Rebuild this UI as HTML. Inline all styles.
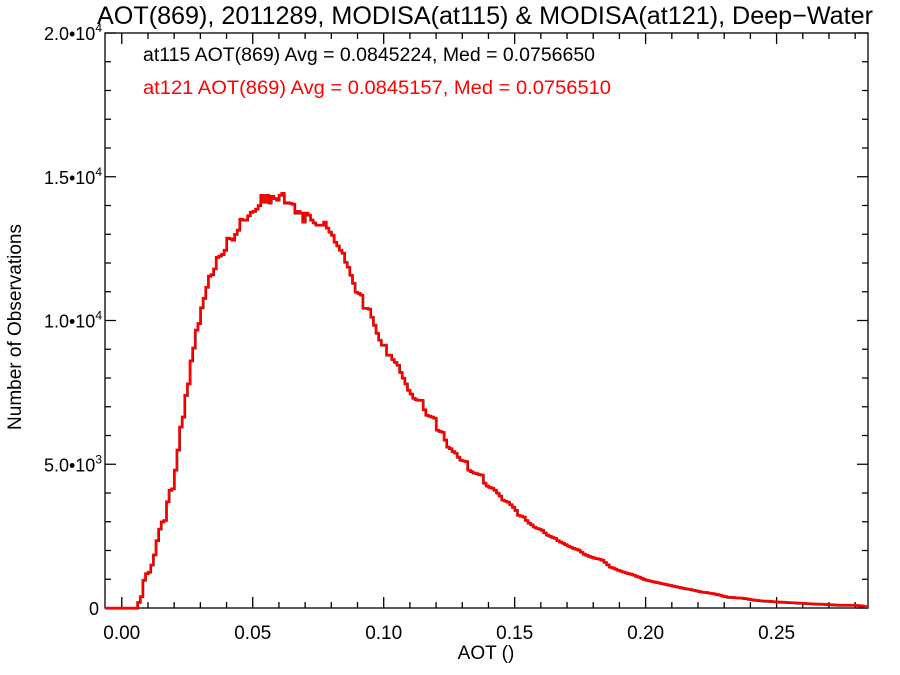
<!DOCTYPE html>
<html><head><meta charset="utf-8"><style>
body{margin:0;background:#fff;}
svg{display:block;font-family:"Liberation Sans",Arial,sans-serif;}
</style></head><body>
<svg id="chart" width="900" height="675" viewBox="0 0 900 675">
<text x="485" y="24" font-size="25" text-anchor="middle" textLength="776" lengthAdjust="spacingAndGlyphs">AOT(869), 2011289, MODISA(at115) &amp; MODISA(at121), Deep−Water</text>
<text x="143" y="61" font-size="19" fill="#000" textLength="452" lengthAdjust="spacingAndGlyphs">at115 AOT(869) Avg = 0.0845224, Med = 0.0756650</text>
<text x="143" y="94" font-size="19" fill="#ff0000" textLength="468" lengthAdjust="spacingAndGlyphs">at121 AOT(869) Avg = 0.0845157, Med = 0.0756510</text>
<text transform="translate(21,327) rotate(-90)" font-size="19" text-anchor="middle">Number of Observations</text>
<text x="486" y="659" font-size="19" text-anchor="middle">AOT ()</text>
<g id="axes"></g>
<g id="series"></g>
</svg>
<script>
const binStart = 0.0;
const binWidth = 0.001;
const countsAt121 = [
0,0,0,0,0,0,200,400,970,1200,
1250,1500,1850,2350,2750,3000,3050,3700,4100,4150,
4800,5500,6300,6650,7400,7800,8600,9050,9670,9900,
10450,10780,11160,11550,11600,11800,12200,12250,12300,12450,
12870,12850,12800,13000,13150,13530,13500,13500,13650,13770,
13800,13880,14000,14360,14120,14360,14090,14330,14250,14190,
14360,14430,14090,14100,14080,14050,13740,13800,13740,13430,
13740,13670,13500,13400,13320,13320,13320,13430,13220,13080,
12970,12730,12600,12450,12350,12030,11860,11580,11300,10990,
10950,10890,10430,10430,10400,10120,9840,9560,9320,9150,
9150,8800,8800,8650,8550,8450,8200,8000,7800,7580,
7450,7300,7250,7230,7230,6900,6710,6680,6650,6610,
6190,6150,6120,5850,5600,5550,5450,5390,5250,5150,
5120,5100,4800,4750,4700,4680,4650,4630,4350,4250,
4200,4170,4100,4000,3900,3760,3720,3690,3600,3510,
3400,3230,3200,3170,3050,2960,2900,2820,2780,2750,
2710,2620,2540,2500,2460,2430,2350,2300,2260,2210,
2160,2120,2080,2050,2020,1950,1880,1840,1800,1770,
1740,1720,1700,1670,1590,1510,1430,1400,1360,1320,
1290,1260,1230,1200,1180,1150,1110,1080,1040,1000,
970,950,930,910,890,870,850,830,810,790,
770,750,730,710,690,670,660,640,620,600,
580,560,550,540,520,510,490,470,450,420,
400,380,375,370,360,355,350,340,330,310,
295,280,270,260,250,245,240,235,230,220,
215,210,205,200,195,190,185,180,175,170,
165,160,155,150,145,140,140,135,130,125,
120,115,110,105,100,100,100,100,100,100,
95,90,80,60,40];
const countsAt115 = countsAt121.slice();
const xTicks = [0.00,0.05,0.10,0.15,0.20,0.25];
const xTickLabels = ["0.00","0.05","0.10","0.15","0.20","0.25"];
const yTicks = [0,5000,10000,15000,20000];
const yTickMant = ["0","5.0","1.0","1.5","2.0"];
const yTickExp = ["","3","4","4","4"];

const L=105,R=868,T=33,B=608;
const xMin=-0.0064,xMax=0.2849,yMax=20000;
const X=v=>L+(v-xMin)/(xMax-xMin)*(R-L);
const Y=v=>B-v/yMax*(B-T);
const NS="http://www.w3.org/2000/svg";
const mk=(t,a,p)=>{const e=document.createElementNS(NS,t);for(const k in a)e.setAttribute(k,a[k]);p.appendChild(e);return e;};
const axes=document.getElementById('axes');
const frame=mk('rect',{x:L,y:T,width:R-L,height:B-T,fill:'none',stroke:'#000','stroke-width':1.3},axes);


let d='';
for(let i=0;i<=28;i++){const v=i*0.01;const x=X(v);if(x>R)break;const len=(i%5===0)?11:6;d+=`M${x},${B}v${-len}M${x},${T}v${len}`;}
for(let i=0;i<=20;i++){const y=Y(i*1000);const len=(i%5===0)?11:6;d+=`M${L},${y}h${len}M${R},${y}h${-len}`;}
const tk=mk('path',{d:d,stroke:'#000','stroke-width':1.3,fill:'none'},axes);


xTicks.forEach((v,i)=>{const t=mk('text',{x:X(v),y:639,'font-size':19,'text-anchor':'middle'},axes);t.textContent=xTickLabels[i];

});
yTicks.forEach((v,i)=>{const t=mk('text',{x:99,y:Y(v)+7,'font-size':18,'text-anchor':'end'},axes);


if(yTickExp[i]){t.textContent=yTickMant[i]+'•10';const s=document.createElementNS(NS,'tspan');s.setAttribute('font-size','12');s.setAttribute('dy','-8');s.textContent=yTickExp[i];t.appendChild(s);t.setAttribute('x',102);}
else t.textContent=yTickMant[i];});
function stepPath(arr){let p=`M${L},${B}`;arr.forEach((c,i)=>{const x0=X(binStart+i*binWidth),x1=X(binStart+(i+1)*binWidth);p+=`L${x0},${Y(c)}L${Math.min(x1,R)},${Y(c)}`;});return p;}
const series=document.getElementById('series');
const s1=mk('path',{d:stepPath(countsAt115),fill:'none',stroke:'#000','stroke-width':2.2,transform:'translate(0.4,0.4)'},series);


const s2=mk('path',{d:stepPath(countsAt121),fill:'none',stroke:'#ff0000','stroke-width':2.4},series);


</script>
</body></html>
